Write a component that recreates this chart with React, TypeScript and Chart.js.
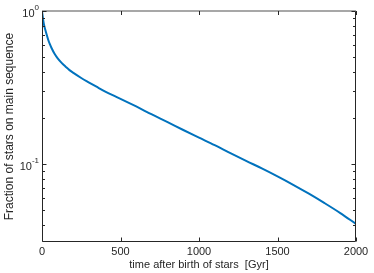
import React, { useEffect, useRef } from "react";
import { Chart, registerables } from "chart.js";

Chart.register(...registerables);

const timeGyr = [0, 3, 6, 10, 15, 20, 30, 40, 50, 60, 80, 100, 125, 150, 175, 200, 250, 300, 350, 400, 450, 500, 600, 700, 800, 900, 1000, 1100, 1200, 1300, 1400, 1500, 1600, 1700, 1800, 1900, 2000];
const fraction = [1.0, 0.944, 0.897, 0.843, 0.794, 0.759, 0.7, 0.647, 0.607, 0.575, 0.525, 0.49, 0.458, 0.433, 0.411, 0.394, 0.365, 0.341, 0.319, 0.299, 0.282, 0.267, 0.238, 0.211, 0.188, 0.167, 0.149, 0.133, 0.118, 0.105, 0.0938, 0.0832, 0.0733, 0.0641, 0.0556, 0.0479, 0.0407];
const xTicks = [0, 500, 1000, 1500, 2000];
const yMajorTicks = [1, 0.1];
const yMajorExp = ["0", "-1"];
const yMinorTicks = [0.04, 0.05, 0.06, 0.07, 0.08, 0.09, 0.2, 0.3, 0.4, 0.5, 0.6, 0.7, 0.8, 0.9];
const xTitle = "time after birth of stars  [Gyr]";
const yTitle = "Fraction of stars on main sequence";

const FONT = "'Liberation Sans', Arial, Helvetica, sans-serif";
const AXIS = "#262626";

const framePlugin = {
  id: "matlabFrame",
  afterDraw(chart: any) {
    const ctx = chart.ctx;
    const a = chart.chartArea;
    const xs = chart.scales.x;
    const ys = chart.scales.y;
    const L = Math.round(a.left) + 0.5;
    const R = Math.round(a.right) - 0.5;
    const T = Math.round(a.top);
    const B = Math.round(a.bottom) - 0.5;
    ctx.save();
    ctx.strokeStyle = AXIS;
    ctx.lineWidth = 1;
    ctx.beginPath();
    ctx.moveTo(L, B);
    ctx.lineTo(L, T);
    ctx.moveTo(L, B);
    ctx.lineTo(R, B);
    ctx.lineTo(R, T);
    ctx.stroke();
    ctx.beginPath();
    ctx.strokeStyle = "#8a8a8a";
    ctx.lineWidth = 1.5;
    ctx.moveTo(L - 0.5, T);
    ctx.lineTo(R + 0.5, T);
    ctx.stroke();
    ctx.strokeStyle = AXIS;
    ctx.lineWidth = 1;
    ctx.beginPath();
    xTicks.forEach((v) => {
      const px = Math.round(xs.getPixelForValue(v)) + 0.5;
      ctx.moveTo(px, B);
      ctx.lineTo(px, B - 4);
      ctx.moveTo(px, T);
      ctx.lineTo(px, T + 4);
    });
    yMajorTicks.forEach((v) => {
      const py = Math.round(ys.getPixelForValue(v)) + 0.5;
      ctx.moveTo(L, py);
      ctx.lineTo(L + 4, py);
      ctx.moveTo(R, py);
      ctx.lineTo(R - 4, py);
    });
    yMinorTicks.forEach((v) => {
      const py = Math.round(ys.getPixelForValue(v)) + 0.5;
      ctx.moveTo(L, py);
      ctx.lineTo(L + 2.5, py);
      ctx.moveTo(R, py);
      ctx.lineTo(R - 2.5, py);
    });
    ctx.stroke();

    ctx.fillStyle = AXIS;
    ctx.font = `11px ${FONT}`;
    ctx.textAlign = "center";
    ctx.textBaseline = "middle";
    xTicks.forEach((v) => {
      ctx.fillText(String(v), xs.getPixelForValue(v), a.bottom + 10);
    });
    ctx.fillText(xTitle, (a.left + a.right) / 2, a.bottom + 23);
    yMajorTicks.forEach((v, i) => {
      const py = ys.getPixelForValue(v);
      ctx.font = `8px ${FONT}`;
      ctx.textAlign = "right";
      const supW = ctx.measureText(yMajorExp[i]).width;
      ctx.fillText(yMajorExp[i], a.left - 3, py - 3);
      ctx.font = `11px ${FONT}`;
      ctx.fillText("10", a.left - 3 - supW, py + 3);
    });
    ctx.save();
    ctx.translate(10, (a.top + a.bottom) / 2);
    ctx.rotate(-Math.PI / 2);
    ctx.font = `12px ${FONT}`;
    ctx.textAlign = "center";
    ctx.textBaseline = "middle";
    ctx.fillText(yTitle, 0, 0);
    ctx.restore();
    ctx.restore();
  },
};

export default function App() {
  const ref = useRef<HTMLCanvasElement>(null);
  useEffect(() => {
    document.body.style.margin = "0";
    const chart = new Chart(ref.current!, {
      type: "line",
      data: {
        datasets: [
          {
            data: timeGyr.map((t, i) => ({ x: t, y: fraction[i] })),
            borderColor: "#0072BD",
            borderWidth: 2,
            pointRadius: 0,
            cubicInterpolationMode: "monotone",
            fill: false,
          },
        ],
      },
      options: {
        animation: false,
        responsive: false,
        maintainAspectRatio: false,
        events: [],
        layout: { padding: { left: 42, right: 18, top: 11, bottom: 31 } },
        plugins: { legend: { display: false }, tooltip: { enabled: false } },
        scales: {
          x: { type: "linear", min: 0, max: 2000, display: false },
          y: { type: "logarithmic", min: 0.031, max: 1, display: false },
        },
      },
      plugins: [framePlugin],
    });
    return () => chart.destroy();
  }, []);
  return (
    <div style={{ width: 374, height: 273, background: "#fff" }}>
      <canvas ref={ref} width={374} height={273} style={{ width: 374, height: 273, display: "block" }} />
    </div>
  );
}
